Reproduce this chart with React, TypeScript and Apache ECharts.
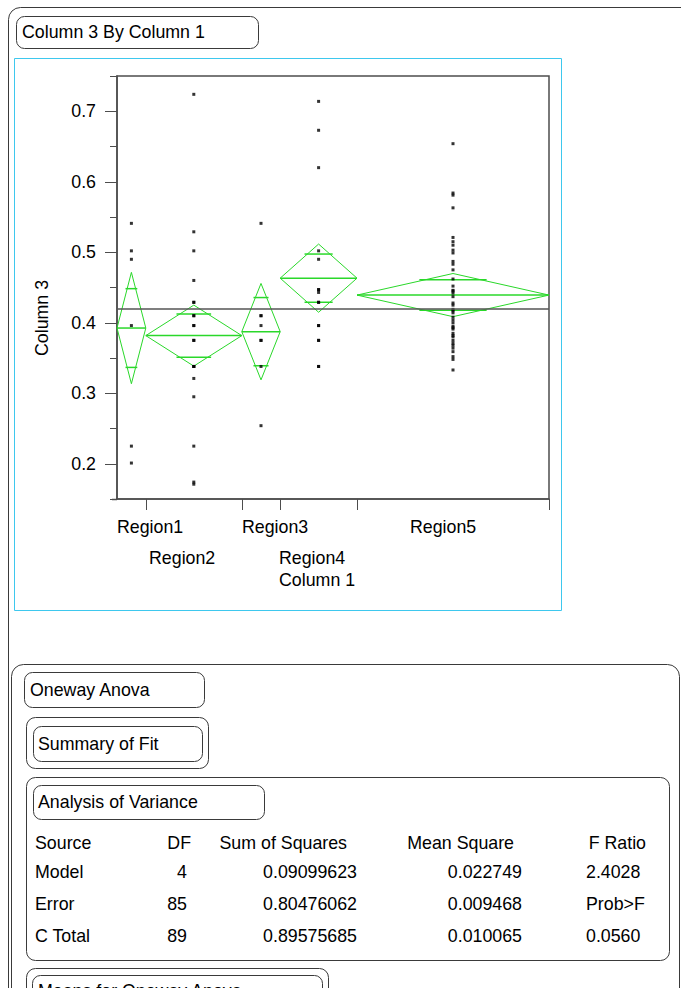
import React, { useEffect, useRef } from "react";
import * as echarts from "echarts";

// ---------- data ----------
const regions = ["Region1", "Region2", "Region3", "Region4", "Region5"];
const region1 = [0.541, 0.502, 0.49, 0.396, 0.225, 0.201];
const region2 = [0.724, 0.529, 0.502, 0.46, 0.429, 0.429, 0.41, 0.41, 0.396, 0.396, 0.375, 0.375, 0.338, 0.338, 0.338, 0.321, 0.295, 0.225, 0.174, 0.171];
const region3 = [0.541, 0.41, 0.41, 0.396, 0.375, 0.375, 0.338, 0.254];
const region4 = [0.714, 0.673, 0.62, 0.502, 0.49, 0.447, 0.447, 0.443, 0.429, 0.429, 0.396, 0.396, 0.375, 0.375, 0.338, 0.338];
const region5 = [0.654, 0.584, 0.581, 0.563, 0.521, 0.515, 0.51, 0.503, 0.499, 0.487, 0.483, 0.475, 0.462, 0.452, 0.446, 0.445, 0.442, 0.437, 0.428, 0.425, 0.419, 0.417, 0.414, 0.408, 0.404, 0.4, 0.395, 0.393, 0.391, 0.385, 0.382, 0.38, 0.375, 0.371, 0.368, 0.364, 0.359, 0.352, 0.348, 0.333];
const groups = [region1, region2, region3, region4, region5];
const yTickValues = [0.2, 0.3, 0.4, 0.5, 0.6, 0.7];

const anovaHeaders = ["Source", "DF", "Sum of Squares", "Mean Square", "F Ratio"];
const anovaSource = ["Model", "Error", "C Total"];
const anovaDF = ["4", "85", "89"];
const anovaSS = ["0.09099623", "0.80476062", "0.89575685"];
const anovaMS = ["0.022749", "0.009468", "0.010065"];
const anovaF = ["2.4028", "Prob>F", "0.0560"];

// ---------- layout ----------
const FONT = '"Liberation Sans", Arial, Helvetica, sans-serif';
const FS = 17.8;
const labelStartX = [0, 6.67, 26.04, 33.75, 61.04]; // x-axis label anchors (axis units)
const labelRow = [0, 1, 0, 1, 0];
const GREEN = "#2ad82a";
const FRAME = "#4d4d4d";
const BOX = "#3a3a3a";
const T_CRIT = 1.98827;

export default function App() {
  const ref = useRef<HTMLDivElement>(null);
  useEffect(() => {
    if (!ref.current) return;
    const chart = echarts.init(ref.current, undefined, { renderer: "svg" });

    const counts = groups.map((g) => g.length);
    const starts: number[] = [];
    counts.reduce((acc, c) => {
      starts.push(acc);
      return acc + c;
    }, 0);
    const total = counts.reduce((a, b) => a + b, 0);
    const means = groups.map((g) => g.reduce((a, b) => a + b, 0) / g.length);
    const grand = groups.flat().reduce((a, b) => a + b, 0) / total;
    const mse = parseFloat(anovaMS[1]);
    const centers = starts.map((s, i) => s + counts[i] / 2);
    const boundaries = starts.map((s, i) => s + counts[i]);

    const points: number[][] = [];
    groups.forEach((g, i) => g.forEach((v) => points.push([centers[i], v])));

    const text = (t: string, x: number, y: number, align = "left") => ({
      type: "text",
      silent: true,
      style: {
        text: t,
        x,
        y,
        font: `${FS}px ${FONT}`,
        fill: "#000",
        textAlign: align,
        textVerticalAlign: "middle",
      },
    });
    const box = (x: number, y: number, w: number, h: number, r: number, stroke = BOX) => ({
      type: "rect",
      silent: true,
      shape: { x, y, width: w, height: h, r },
      style: { fill: "none", stroke, lineWidth: 1 },
    });

    const colX = { src: 35, dfHead: 191, df: 187, ssHead: 347, ss: 357, msHead: 514, ms: 522, fHead: 646, f: 586 };
    const rowY = [872, 904, 936];
    const tableTexts: any[] = [
      text(anovaHeaders[0], colX.src, 843),
      text(anovaHeaders[1], colX.dfHead, 843, "right"),
      text(anovaHeaders[2], colX.ssHead, 843, "right"),
      text(anovaHeaders[3], colX.msHead, 843, "right"),
      text(anovaHeaders[4], colX.fHead, 843, "right"),
    ];
    anovaSource.forEach((s, i) => {
      tableTexts.push(text(s, colX.src, rowY[i]));
      tableTexts.push(text(anovaDF[i], colX.df, rowY[i], "right"));
      tableTexts.push(text(anovaSS[i], colX.ss, rowY[i], "right"));
      tableTexts.push(text(anovaMS[i], colX.ms, rowY[i], "right"));
      tableTexts.push(text(anovaF[i], colX.f, rowY[i]));
    });

    const rowLabels = (row: number) => labelStartX.filter((_, i) => labelRow[i] === row);
    const labelFor = (v: number) => {
      let best = 0;
      labelStartX.forEach((p, i) => {
        if (Math.abs(p - v) < Math.abs(labelStartX[best] - v)) best = i;
      });
      return regions[best];
    };
    const xLabelStyle = {
      show: true,
      align: "left",
      color: "#000",
      fontFamily: FONT,
      fontSize: FS,
      showMinLabel: true,
      showMaxLabel: true,
      hideOverlap: false,
      formatter: (v: number) => labelFor(v),
    };

    const option: any = {
      animation: false,
      backgroundColor: "#fff",
      textStyle: { fontFamily: FONT },
      grid: { left: 117, top: 76, width: 432, height: 423, show: true, borderColor: FRAME, borderWidth: 1.5, backgroundColor: "transparent" },
      xAxis: [
        {
          type: "value",
          min: 0,
          max: total,
          position: "bottom",
          axisLine: { show: true, lineStyle: { color: FRAME, width: 1.5 } },
          axisTick: { show: true, length: 11, lineStyle: { color: FRAME, width: 1 }, customValues: boundaries },
          axisLabel: { ...xLabelStyle, customValues: rowLabels(0), margin: 19 },
          splitLine: { show: false },
        },
        {
          type: "value",
          min: 0,
          max: total,
          position: "bottom",
          offset: 0,
          axisLine: { show: false },
          axisTick: { show: false },
          axisLabel: { ...xLabelStyle, customValues: rowLabels(1), margin: 50 },
          splitLine: { show: false },
        },
      ],
      yAxis: [
        {
          type: "value",
          min: 0.15,
          max: 0.75,
          interval: 0.05,
          position: "left",
          axisLine: { show: true, lineStyle: { color: FRAME, width: 1.5 } },
          axisTick: { show: true, length: 7, lineStyle: { color: FRAME, width: 1 } },
          axisLabel: { show: false },
          splitLine: { show: false },
        },
        {
          type: "value",
          min: 0.15,
          max: 0.75,
          position: "left",
          offset: 0,
          axisLine: { show: false },
          axisTick: { show: true, length: 12, lineStyle: { color: FRAME, width: 1 }, customValues: yTickValues },
          axisLabel: {
            show: true,
            customValues: yTickValues,
            margin: 21,
            color: "#000",
            fontFamily: FONT,
            fontSize: FS,
            formatter: (v: number) => v.toFixed(1),
          },
          splitLine: { show: false },
        },
      ],
      series: [
        {
          type: "custom",
          xAxisIndex: 0,
          yAxisIndex: 0,
          silent: true,
          clip: false,
          data: centers.map((c, i) => [c, means[i]]),
          renderItem: (params: any, api: any) => {
            const i = params.dataIndex;
            const x0 = starts[i];
            const x1 = boundaries[i];
            const xc = centers[i];
            const m = means[i];
            const h = T_CRIT * Math.sqrt(mse / counts[i]);
            const L = api.coord([x0, m]);
            const R = api.coord([x1, m]);
            const T = api.coord([xc, m + h]);
            const B = api.coord([xc, m - h]);
            const o = h / Math.SQRT2;
            const U = api.coord([xc, m + o]);
            const D = api.coord([xc, m - o]);
            const hw = (R[0] - L[0]) * 0.17 + 1;
            const ls = { stroke: GREEN, lineWidth: 1, fill: "none" };
            return {
              type: "group",
              children: [
                { type: "polygon", shape: { points: [L, T, R, B] }, style: ls },
                { type: "line", shape: { x1: L[0], y1: L[1], x2: R[0], y2: R[1] }, style: { stroke: GREEN, lineWidth: 1.5 } },
                { type: "line", shape: { x1: U[0] - hw, y1: U[1], x2: U[0] + hw, y2: U[1] }, style: { stroke: GREEN, lineWidth: 1.5 } },
                { type: "line", shape: { x1: D[0] - hw, y1: D[1], x2: D[0] + hw, y2: D[1] }, style: { stroke: GREEN, lineWidth: 1.5 } },
              ],
            };
          },
          z: 3,
        },
        {
          type: "scatter",
          xAxisIndex: 0,
          yAxisIndex: 0,
          silent: true,
          symbol: "rect",
          symbolSize: 3,
          itemStyle: { color: "#000" },
          data: points,
          z: 4,
          markLine: {
            silent: true,
            symbol: ["none", "none"],
            label: { show: false },
            lineStyle: { color: "#555", width: 1.5, type: "solid" },
            data: [{ yAxis: grand }],
          },
        },
      ],
      graphic: [
        // outer report frame
        box(8.5, 7.5, 720, 1020, 12),
        box(16.5, 16.5, 242, 32, 8),
        text("Column 3 By Column 1", 22, 32),
        box(14.5, 58.5, 547, 552, 0, "#3ec8ee"),
        {
          type: "text",
          silent: true,
          x: 42,
          y: 318,
          rotation: Math.PI / 2,
          style: { text: "Column 3", x: 0, y: 0, font: `${FS}px ${FONT}`, fill: "#000", textAlign: "center", textVerticalAlign: "middle" },
        },
        text("Column 1", 279, 580),
        { type: "line", silent: true, shape: { x1: 112, y1: 499.5, x2: 117, y2: 499.5 }, style: { stroke: FRAME, lineWidth: 1.5 } },
        // lower section
        box(11.5, 664.5, 668, 400, 12),
        box(24.5, 672.5, 180, 35, 8),
        text("Oneway Anova", 30, 690),
        box(26.5, 717.5, 182, 51, 9),
        box(33.5, 726.5, 169, 35, 8),
        text("Summary of Fit", 38, 744),
        box(26.5, 777.5, 643, 183, 9),
        box(33.5, 785.5, 231, 34, 8),
        text("Analysis of Variance", 38, 802),
        ...tableTexts,
        box(26.5, 968.5, 302, 60, 9),
        box(32.5, 975.5, 290, 50, 8),
        text("Means for Oneway Anova", 38, 991),
      ],
    };
    chart.setOption(option);
    return () => chart.dispose();
  }, []);
  return <div ref={ref} style={{ position: "absolute", left: 0, top: 0, width: 681, height: 988 }} />;
}
